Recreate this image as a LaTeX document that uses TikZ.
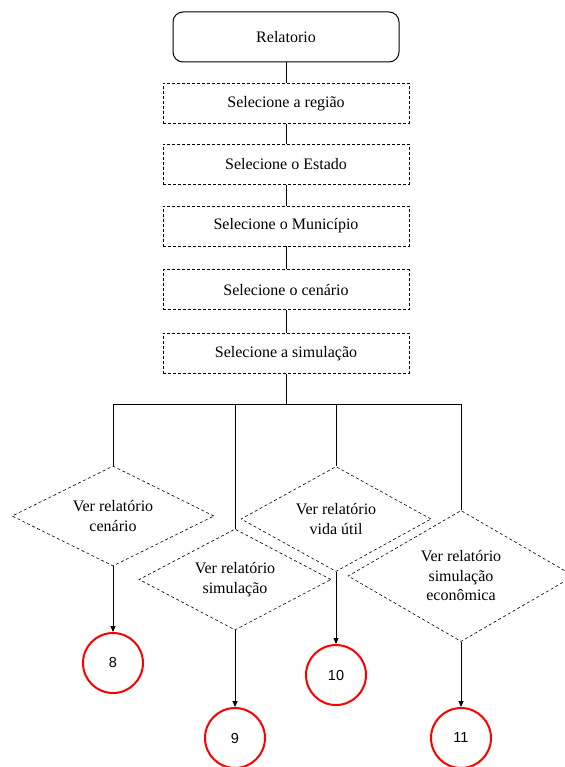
\documentclass[tikz,border=0pt]{standalone}
\usepackage{fontspec}
\setmainfont{Liberation Serif}
\newfontfamily\numfont{Liberation Sans}
\usepackage{tikz}
\usetikzlibrary{positioning, arrows.meta, shapes.geometric}
\definecolor{Linkred}{HTML}{FF0000}
\definecolor{Black90}{HTML}{000000}

\begin{document}
\begin{tikzpicture}[x=1pt, y=-1pt,
    start/.style={draw=Black90, rounded corners=10pt, line width=1pt, minimum width=226pt, minimum height=50pt, align=center},
    sel/.style={draw=Black90, dash pattern=on 3pt off 2pt, line width=0.6pt, minimum width=246pt, minimum height=40pt, align=center},
    choice/.style={draw=Black90, diamond, shape aspect=2, dash pattern=on 3pt off 2.5pt, line width=0.6pt, inner sep=0pt, align=center},
    link/.style={draw=Linkred, circle, line width=2pt, minimum size=60pt, inner sep=0pt, font=\numfont\fontsize{14.5}{17}\selectfont},
    line/.style={draw=Black90, line width=0.9pt},
    arr/.style={-{Triangle[length=6pt, width=5pt]}, line width=0.9pt, color=Black90},
    every node/.style={font=\fontsize{16}{19.5}\selectfont}
]
\useasboundingbox (0,0) rectangle (564,767);

% Selection chain
\node[start] (rel) at (286,37) {Relatorio};
\node[sel, below=20.5pt of rel] (regiao) {Selecione a região};
\node[sel, below=20.5pt of regiao] (estado) {Selecione o Estado};
\node[sel, below=21pt of estado] (municipio) {Selecione o Município};
\node[sel, below=23pt of municipio] (cenario) {Selecione o cenário};
\node[sel, below=23pt of cenario] (simulacao) {Selecione a simulação};

\draw[line] (rel) -- (regiao);
\draw[line] (regiao) -- (estado);
\draw[line] (estado) -- (municipio);
\draw[line] (municipio) -- (cenario);
\draw[line] (cenario) -- (simulacao);

% Report choices
\node[choice, minimum width=202pt, minimum height=100pt] (vcen) at (113,516) {Ver relatório\\cenário};
\node[choice, minimum width=192pt, minimum height=101pt] (vsim) at (235,579.5) {Ver relatório\\simulação};
\node[choice, minimum width=190pt, minimum height=105pt] (vvida) at (336,519) {Ver relatório\\vida útil};
\node[choice, minimum width=226pt, minimum height=131pt] (veco) at (461,576) {Ver relatório\\simulação\\econômica};

\coordinate (bus) at (286,404);
\draw[line] (simulacao) -- (bus);
\draw[line] (bus) -| (vcen.north);
\draw[line] (bus) -| (vsim.north);
\draw[line] (bus) -| (vvida.north);
\draw[line] (bus) -| (veco.north);

% Page links
\node[link] (l8) at (113,663) {8};
\node[link] (l9) at (235,738) {9};
\node[link] (l10) at (336,675) {10};
\node[link] (l11) at (461,738) {11};

\draw[arr] (vcen) -- (l8);
\draw[arr] (vsim) -- (l9);
\draw[arr] (vvida) -- (l10);
\draw[arr] (veco) -- (l11);

\end{tikzpicture}
\end{document}
